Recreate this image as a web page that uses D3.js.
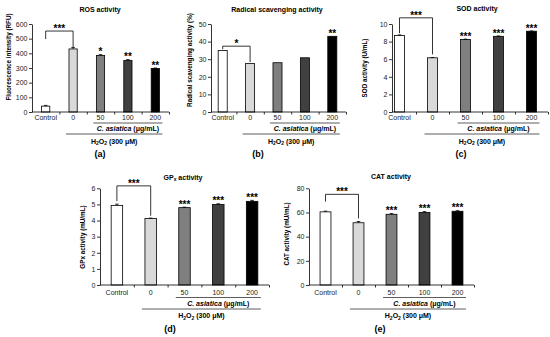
<!DOCTYPE html>
<html>
<head>
<meta charset="utf-8">
<script src="https://d3js.org/d3.v7.min.js"></script>
<style>
  body { margin: 0; background: #fff; }
  svg { font-family: Arial, "Liberation Sans", sans-serif; }
  .tick text { font-size: 7px; fill: #222; }
  .tick line, .domain { stroke: #000; }
</style>
</head>
<body>
<svg id="chart" width="550" height="337"></svg>
<script>
// groups on the x axis
const categories = ['Control', '0', '50', '100', '200'];

// (a) ROS
const rosValues = [40, 430, 385, 352, 297];
const rosErrors = [5, 10, 6, 5, 3];
const rosStars = ['', '', '*', '**', '**'];
const rosBracket = [552, 497, 442, '***']; // top, left end, right end, label
const rosTicks = [0, 100, 200, 300, 400, 500, 600];

// (b) radical scavenging
const scavValues = [35, 27.5, 28, 30.8, 43];
const scavErrors = [0, 0, 0, 0, 0];
const scavStars = ['', '', '', '', '**'];
const scavBracket = [37.4, 35.7, 28.3, '*'];
const scavTicks = [0, 10, 20, 30, 40, 50];

// (c) SOD
const sodValues = [8.7, 6.16, 8.24, 8.6, 9.18];
const sodErrors = [0.06, 0.03, 0.04, 0.04, 0.03];
const sodStars = ['', '', '***', '***', '***'];
const sodBracket = [10.7, 8.95, 6.55, '***'];
const sodTicks = [0, 2, 4, 6, 8, 10];

// (d) GPx
const gpxValues = [4.94, 4.12, 4.8, 4.99, 5.19];
const gpxErrors = [0.08, 0.03, 0.03, 0.05, 0.06];
const gpxStars = ['', '', '***', '***', '***'];
const gpxBracket = [6.15, 5.2, 4.3, '***'];
const gpxTicks = [0, 1, 2, 3, 4, 5, 6];

// (e) CAT
const catValues = [60.5, 51.5, 58.5, 60, 61];
const catErrors = [0.6, 1, 0.6, 0.7, 0.5];
const catStars = ['', '', '***', '***', '***'];
const catBracket = [75, 69, 55, '***'];
const catTicks = [0, 20, 40, 60, 80];

const fillColors = ['#ffffff', '#d9d9d9', '#7f7f7f', '#404040', '#000000'];

const topOff = [8, 11, 18.5, 22, 31.5, 45];
const botOff = [9.5, 12.5, 20.5, 24, 33, 47];

const panels = [
  { tag: '(a)', title: 'ROS activity', ylabel: 'Fluorescence intensity (RFU)',
    values: rosValues, errors: rosErrors, stars: rosStars, bracket: rosBracket, ticks: rosTicks,
    axisX: 32, x0: 32, x1: 169, yTop: 24, yBot: 112, pad: 0.7,
    titleX: 100, titleY: 12, ylabX: 10.5, ylabY: 57, tagX: 100, off: topOff },
  { tag: '(b)', title: 'Radical scavenging activity', ylabel: 'Radical scavenging activity (%)',
    values: scavValues, errors: scavErrors, stars: scavStars, bracket: scavBracket, ticks: scavTicks,
    axisX: 211, x0: 209, x1: 346, yTop: 24, yBot: 112, pad: 0.67,
    titleX: 277, titleY: 12, ylabX: 192, ylabY: 60, tagX: 258, off: topOff },
  { tag: '(c)', title: 'SOD activity', ylabel: 'SOD activity (U/mL)',
    values: sodValues, errors: sodErrors, stars: sodStars, bracket: sodBracket, ticks: sodTicks,
    axisX: 392, x0: 383, x1: 548, yTop: 24, yBot: 112, pad: 0.7,
    titleX: 477, titleY: 11, ylabX: 367, ylabY: 68, tagX: 461, off: topOff },
  { tag: '(d)', title: 'GPx activity', ylabel: 'GPx activity (mU/mL)', sub: true,
    values: gpxValues, errors: gpxErrors, stars: gpxStars, bracket: gpxBracket, ticks: gpxTicks,
    axisX: 100, x0: 100, x1: 269, yTop: 188.3, yBot: 285, pad: 0.66,
    titleX: 183, titleY: 179.5, ylabX: 85, ylabY: 237, tagX: 170, off: botOff },
  { tag: '(e)', title: 'CAT activity', ylabel: 'CAT activity (mU/mL)',
    values: catValues, errors: catErrors, stars: catStars, bracket: catBracket, ticks: catTicks,
    axisX: 309, x0: 309, x1: 474, yTop: 188.3, yBot: 285, pad: 0.67,
    titleX: 391, titleY: 179, ylabX: 289, ylabY: 234, tagX: 380, off: botOff }
];

const svg = d3.select('#chart');

function drawPanel(p) {
  const g = svg.append('g');
  const x = d3.scaleBand().domain(categories).range([p.x0, p.x1])
    .paddingInner(p.pad).paddingOuter(p.pad / 2);
  const y = d3.scaleLinear().domain([0, p.ticks[p.ticks.length - 1]]).range([p.yBot, p.yTop]);
  const cx = c => x(c) + x.bandwidth() / 2;

  // bars
  g.selectAll('rect.bar').data(p.values).join('rect')
    .attr('class', 'bar')
    .attr('x', (d, i) => x(categories[i]))
    .attr('y', d => y(d))
    .attr('width', x.bandwidth())
    .attr('height', d => y(0) - y(d))
    .attr('fill', (d, i) => fillColors[i])
    .attr('stroke', '#000')
    .attr('stroke-width', 0.8);

  // error bars (upper only)
  p.values.forEach((v, i) => {
    const e = p.errors[i];
    if (!e) return;
    const xc = cx(categories[i]);
    g.append('line').attr('x1', xc).attr('x2', xc).attr('y1', y(v)).attr('y2', y(v + e))
      .attr('stroke', '#000').attr('stroke-width', 0.8);
    g.append('line').attr('x1', xc - 1.8).attr('x2', xc + 1.8).attr('y1', y(v + e)).attr('y2', y(v + e))
      .attr('stroke', '#000').attr('stroke-width', 0.8);
  });

  // y axis
  g.append('g').attr('transform', `translate(${p.axisX},0)`)
    .call(d3.axisLeft(y).tickValues(p.ticks).tickFormat(d => d).tickSize(3).tickSizeOuter(0).tickPadding(1.5))
    .call(a => a.selectAll('.tick line').attr('stroke-width', 0.8))
    .call(a => a.select('.domain').attr('stroke-width', 0.8));

  // x axis with ticks at group boundaries
  const xl = d3.scaleLinear().domain([0, categories.length]).range([p.x0, p.x1]);
  g.append('g').attr('transform', `translate(0,${p.yBot})`)
    .call(d3.axisBottom(xl).tickValues([1, 2, 3, 4, 5]).tickSize(2.5).tickFormat(''))
    .call(a => a.select('.domain').remove())
    .call(a => a.selectAll('.tick line').attr('stroke-width', 0.8));
  g.append('line').attr('x1', p.axisX).attr('x2', p.x1).attr('y1', p.yBot).attr('y2', p.yBot)
    .attr('stroke', '#000').attr('stroke-width', 0.8);

  // category labels
  g.selectAll('text.cat').data(categories).join('text')
    .attr('class', 'cat')
    .attr('x', d => cx(d))
    .attr('y', p.yBot + p.off[0])
    .attr('text-anchor', 'middle')
    .attr('font-size', 7)
    .attr('fill', '#222')
    .text(d => d);

  // treatment lines
  const xEnd = x('200') + x.bandwidth() + 3;
  const caStart = x('50') - 3;
  const hStart = x('0') - 3;
  g.append('line').attr('x1', caStart).attr('x2', xEnd)
    .attr('y1', p.yBot + p.off[1]).attr('y2', p.yBot + p.off[1])
    .attr('stroke', '#333').attr('stroke-width', 0.8);
  const ca = g.append('text').attr('x', (caStart + xEnd) / 2).attr('y', p.yBot + p.off[2])
    .attr('text-anchor', 'middle').attr('font-size', 7).attr('font-weight', 'bold').attr('fill', '#000');
  ca.append('tspan').attr('font-style', 'italic').text('C. asiatica');
  ca.append('tspan').text(' (μg/mL)');

  g.append('line').attr('x1', hStart).attr('x2', xEnd)
    .attr('y1', p.yBot + p.off[3]).attr('y2', p.yBot + p.off[3])
    .attr('stroke', '#333').attr('stroke-width', 0.8);
  const h = g.append('text').attr('x', (hStart + xEnd) / 2).attr('y', p.yBot + p.off[4])
    .attr('text-anchor', 'middle').attr('font-size', 7).attr('font-weight', 'bold').attr('fill', '#000');
  h.append('tspan').text('H');
  h.append('tspan').attr('font-size', 5).attr('dy', 1.5).text('2');
  h.append('tspan').attr('dy', -1.5).text('O');
  h.append('tspan').attr('font-size', 5).attr('dy', 1.5).text('2');
  h.append('tspan').attr('dy', -1.5).text(' (300 μM)');

  // panel tag
  g.append('text').attr('x', p.tagX).attr('y', p.yBot + p.off[5])
    .attr('text-anchor', 'middle').attr('font-size', 9).attr('font-weight', 'bold').text(p.tag);

  // title
  const t = g.append('text').attr('x', p.titleX).attr('y', p.titleY)
    .attr('text-anchor', 'middle').attr('font-size', 7).attr('font-weight', 'bold');
  if (p.sub) {
    t.append('tspan').text('GP');
    t.append('tspan').attr('font-size', 5).attr('dy', 1.5).text('x');
    t.append('tspan').attr('dy', -1.5).text(' activity');
  } else {
    t.text(p.title);
  }

  // y label
  g.append('text')
    .attr('transform', `translate(${p.ylabX},${p.ylabY}) rotate(-90)`)
    .attr('text-anchor', 'middle').attr('font-size', 6.3).attr('font-weight', 'bold')
    .text(p.ylabel);

  // significance on bars
  g.selectAll('text.star').data(p.stars).join('text')
    .attr('class', 'star')
    .attr('x', (d, i) => cx(categories[i]))
    .attr('y', (d, i) => y(p.values[i] + p.errors[i]) + 0.7)
    .attr('text-anchor', 'middle').attr('font-size', 10).attr('font-weight', 'bold')
    .text(d => d);

  // bracket Control vs 0
  const [bTop, bLeft, bRight, bLab] = p.bracket;
  const xa = cx('Control'), xb = cx('0');
  g.append('path')
    .attr('d', `M${xa},${y(bLeft)}V${y(bTop)}H${xb}V${y(bRight)}`)
    .attr('fill', 'none').attr('stroke', '#000').attr('stroke-width', 0.8);
  g.append('text').attr('x', (xa + xb) / 2).attr('y', y(bTop) + 0.7)
    .attr('text-anchor', 'middle').attr('font-size', 10).attr('font-weight', 'bold')
    .text(bLab);
}

panels.forEach(drawPanel);
</script>
</body>
</html>
